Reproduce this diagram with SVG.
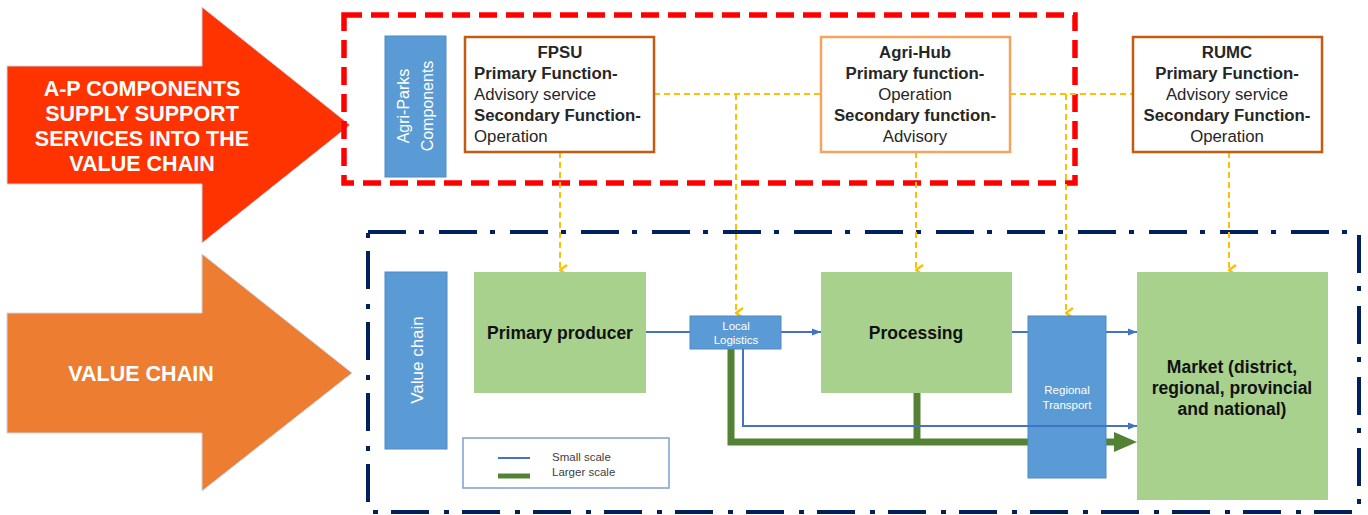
<svg xmlns="http://www.w3.org/2000/svg" width="1368" height="515" viewBox="0 0 1368 515">
<defs>
<style>
text{font-family:"Liberation Sans",Arial,sans-serif}
.w{fill:#fff}
.big{font-size:21.5px;font-weight:bold;fill:#fff}
.b{font-weight:bold}
.bt{font-size:16.8px;fill:#262626}
.gt{font-size:17.5px;font-weight:bold;fill:#111}
.comp{fill:#fff;stroke:#c55a11;stroke-width:2.5}
.hub{fill:#fff;stroke:#f4a460;stroke-width:2.5}
.blue{fill:#5b9bd5;stroke:#4f8ac4;stroke-width:1}
.green{fill:#a9d18e}
.ylw{fill:none;stroke:#ffc000;stroke-width:2;stroke-dasharray:6 4}
.sm{fill:none;stroke:#4472c4;stroke-width:2}
.lg{fill:none;stroke:#548235;stroke-width:7}
</style>
<marker id="ya" viewBox="0 0 12 10" refX="6" refY="9" markerWidth="12" markerHeight="10" markerUnits="userSpaceOnUse" orient="auto-start-reverse">
<path d="M1,2 L6,9 L11,2" fill="none" stroke="#ffc000" stroke-width="2.5"/>
</marker>
<marker id="ba" viewBox="0 0 10 10" refX="10" refY="5" markerWidth="9" markerHeight="9" markerUnits="userSpaceOnUse" orient="auto">
<path d="M0,1 L10,5 L0,9 z" fill="#4472c4"/>
</marker>
</defs>

<g id="arrow-ap">
<polygon points="7,66 202,66 202,7 350,125 202,243 202,184 7,184" fill="#ff3300" stroke="#c9d6e8" stroke-width="1"/>
<text class="big" text-anchor="middle" x="142" y="96">A-P COMPONENTS</text>
<text class="big" text-anchor="middle" x="142" y="121">SUPPLY SUPPORT</text>
<text class="big" text-anchor="middle" x="142" y="146">SERVICES INTO THE</text>
<text class="big" text-anchor="middle" x="142" y="171">VALUE CHAIN</text>
</g>

<g id="arrow-vc">
<polygon points="7,313 202,313 202,254 352,373 202,491 202,433 7,433" fill="#ed7d31" stroke="#c9d6e8" stroke-width="1"/>
<text class="big" text-anchor="middle" x="141" y="381">VALUE CHAIN</text>
</g>

<g id="ap-frame">
<rect x="344" y="15" width="731" height="168" fill="none" stroke="#ff0000" stroke-width="5.5" stroke-dasharray="18 9"/>
</g>

<g id="vc-frame">
<rect x="368" y="232" width="991" height="280" fill="none" stroke="#002060" stroke-width="4" stroke-dasharray="38 13 5 15"/>
</g>

<g id="connectors">
<path class="ylw" d="M654,94 H821"/>
<path class="ylw" d="M1010,94 H1133"/>
<path class="ylw" d="M560,152 V270" marker-end="url(#ya)"/>
<path class="ylw" d="M736,94 V313" marker-end="url(#ya)"/>
<path class="ylw" d="M916,152 V270" marker-end="url(#ya)"/>
<path class="ylw" d="M1066,94 V313" marker-end="url(#ya)"/>
<path class="ylw" d="M1229,152 V270" marker-end="url(#ya)"/>
<path class="sm" d="M646,332 H690"/>
<path class="sm" d="M781,332 H821" marker-end="url(#ba)"/>
<path class="sm" d="M1012,332 H1028"/>
<path class="sm" d="M1106,332 H1137" marker-end="url(#ba)"/>
<path class="lg" d="M731,349 V442 H1116"/>
<path class="lg" d="M917,393 V442"/>
<polygon points="1114,432 1137,442 1114,452" fill="#548235"/>
</g>

<g id="agri-parks-label">
<rect class="blue" x="385" y="36" width="61" height="141"/>
<text class="w" font-size="16" text-anchor="middle" transform="translate(409,106) rotate(-90)">Agri-Parks</text>
<text class="w" font-size="16" text-anchor="middle" transform="translate(433,106) rotate(-90)">Components</text>
</g>

<g id="fpsu">
<rect class="comp" x="465" y="37" width="189" height="115"/>
<text class="bt b" text-anchor="middle" x="560" y="58">FPSU</text>
<text class="bt b" x="474" y="79">Primary Function-</text>
<text class="bt" x="474" y="100">Advisory service</text>
<text class="bt b" x="474" y="121">Secondary Function-</text>
<text class="bt" x="474" y="142">Operation</text>
</g>

<g id="agri-hub">
<rect class="hub" x="821" y="37" width="189" height="115"/>
<text class="bt b" text-anchor="middle" x="915" y="58">Agri-Hub</text>
<text class="bt b" text-anchor="middle" x="915" y="79">Primary function-</text>
<text class="bt" text-anchor="middle" x="915" y="100">Operation</text>
<text class="bt b" text-anchor="middle" x="915" y="121">Secondary function-</text>
<text class="bt" text-anchor="middle" x="915" y="142">Advisory</text>
</g>

<g id="rumc">
<rect class="comp" x="1133" y="37" width="189" height="115"/>
<text class="bt b" text-anchor="middle" x="1227" y="58">RUMC</text>
<text class="bt b" text-anchor="middle" x="1227" y="79">Primary Function-</text>
<text class="bt" text-anchor="middle" x="1227" y="100">Advisory service</text>
<text class="bt b" text-anchor="middle" x="1227" y="121">Secondary Function-</text>
<text class="bt" text-anchor="middle" x="1227" y="142">Operation</text>
</g>

<g id="value-chain-label">
<rect class="blue" x="385" y="272" width="62" height="177"/>
<text class="w" font-size="17" text-anchor="middle" transform="translate(423,360) rotate(-90)">Value chain</text>
</g>

<g id="primary-producer">
<rect class="green" x="474" y="272" width="172" height="121"/>
<text class="gt" text-anchor="middle" x="560" y="339">Primary producer</text>
</g>

<g id="local-logistics">
<rect class="blue" x="690" y="316" width="91" height="33"/>
<text class="w" font-size="11.5" text-anchor="middle" x="736" y="330">Local</text>
<text class="w" font-size="11.5" text-anchor="middle" x="736" y="344">Logistics</text>
</g>

<g id="processing">
<rect class="green" x="821" y="272" width="191" height="121"/>
<text class="gt" text-anchor="middle" x="916" y="339">Processing</text>
</g>

<g id="regional-transport">
<rect class="blue" x="1028" y="316" width="78" height="162"/>
<text class="w" font-size="11.5" text-anchor="middle" x="1067" y="394">Regional</text>
<text class="w" font-size="11.5" text-anchor="middle" x="1067" y="409">Transport</text>
</g>

<g id="small-scale-line">
<path class="sm" d="M743,349 V426 H1137" marker-end="url(#ba)"/>
</g>

<g id="market">
<rect class="green" x="1137" y="272" width="191" height="228"/>
<text class="gt" text-anchor="middle" x="1232" y="373">Market (district,</text>
<text class="gt" text-anchor="middle" x="1232" y="394">regional, provincial</text>
<text class="gt" text-anchor="middle" x="1232" y="415">and national)</text>
</g>

<g id="legend">
<rect x="463" y="438" width="206" height="50" fill="#fff" stroke="#7f9fd4" stroke-width="1.5"/>
<path class="sm" d="M498,458 H530"/>
<path d="M498,476 H530" stroke="#548235" stroke-width="5"/>
<text font-size="11.5" fill="#404040" x="552" y="461">Small scale</text>
<text font-size="11.5" fill="#404040" x="552" y="476">Larger scale</text>
</g>
</svg>
